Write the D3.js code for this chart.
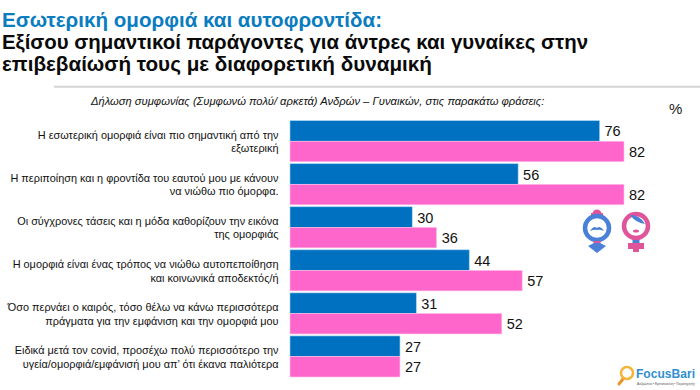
<!DOCTYPE html>
<html>
<head>
<meta charset="utf-8">
<script src="https://cdn.jsdelivr.net/npm/d3@7"></script>
<style>
  html, body { margin: 0; padding: 0; background: #fff; }
  svg { display: block; }
  text { font-family: "Liberation Sans", Arial, sans-serif; }
</style>
</head>
<body>
<div id="chart"></div>
<script>
// chart data
const statements = [
  ["Η εσωτερική ομορφιά είναι πιο σημαντική από την", "εξωτερική"],
  ["Η περιποίηση και η φροντίδα του εαυτού μου με κάνουν", "να νιώθω πιο όμορφα."],
  ["Οι σύγχρονες τάσεις και η μόδα καθορίζουν την εικόνα", "της ομορφιάς"],
  ["Η ομορφιά είναι ένας τρόπος να νιώθω αυτοπεποίθηση", "και κοινωνικά αποδεκτός/ή"],
  ["Όσο περνάει ο καιρός, τόσο θέλω να κάνω περισσότερα", "πράγματα για την εμφάνιση και την ομορφιά μου"],
  ["Ειδικά μετά τον covid, προσέχω πολύ περισσότερο την", "υγεία/ομορφιά/εμφάνισή μου απ’ ότι έκανα παλιότερα"]
];
const men = [76, 56, 30, 44, 31, 27];
const women = [82, 82, 36, 57, 52, 27];
const seriesNames = ["men", "women"];
const seriesColors = ["#0070c0", "#ff66cc"];
const seriesStrokes = ["#9ad0f0", "#ffc4ea"];

const width = 700, height = 390;
const svg = d3.select("#chart").append("svg")
  .attr("width", width)
  .attr("height", height);

// title
const title = svg.append("g").attr("font-weight", "bold").attr("font-size", 19.5);
title.append("text").attr("x", 2).attr("y", 26.5)
  .attr("fill", "#0a7cc0")
  .attr("textLength", 380).attr("lengthAdjust", "spacingAndGlyphs")
  .text("Εσωτερική ομορφιά και αυτοφροντίδα:");
title.append("text").attr("x", 2).attr("y", 48.5)
  .attr("fill", "#0a0a0a")
  .attr("textLength", 586).attr("lengthAdjust", "spacingAndGlyphs")
  .text("Εξίσου σημαντικοί παράγοντες για άντρες και γυναίκες στην");
title.append("text").attr("x", 2).attr("y", 70.5)
  .attr("fill", "#0a0a0a")
  .attr("textLength", 430).attr("lengthAdjust", "spacingAndGlyphs")
  .text("επιβεβαίωσή τους με διαφορετική δυναμική");

svg.append("line")
  .attr("x1", 54).attr("x2", 700).attr("y1", 86.7).attr("y2", 86.7)
  .attr("stroke", "#d4d4d4").attr("stroke-width", 2);

svg.append("text").attr("x", 91).attr("y", 105)
  .attr("font-size", 11.2).attr("font-style", "italic").attr("fill", "#111")
  .text("Δήλωση συμφωνίας (Συμφωνώ πολύ/ αρκετά) Ανδρών – Γυναικών, στις παρακάτω φράσεις:");
svg.append("text").attr("x", 669).attr("y", 114)
  .attr("font-size", 15).attr("fill", "#222")
  .text("%");

// scales
const x = d3.scaleLinear().domain([0, 82]).range([290, 624]);
const y = d3.scaleBand().domain(d3.range(statements.length))
  .range([120.7, 377]).paddingInner(0.0465).paddingOuter(0);
const inner = d3.scaleBand().domain(seriesNames).range([0, y.bandwidth()]);

// bars
const rows = svg.append("g").selectAll("g")
  .data(statements)
  .join("g")
  .attr("transform", (d, i) => `translate(0,${y(i)})`);

[men, women].forEach((values, s) => {
  rows.append("rect")
    .attr("x", x(0))
    .attr("y", inner(seriesNames[s]))
    .attr("width", (d, i) => x(values[i]) - x(0))
    .attr("height", inner.bandwidth())
    .attr("fill", seriesColors[s])
    .attr("stroke", seriesStrokes[s])
    .attr("stroke-width", 0.6);

  rows.append("text")
    .attr("x", (d, i) => x(values[i]) + 5)
    .attr("y", inner(seriesNames[s]) + inner.bandwidth() / 2)
    .attr("dy", "0.38em")
    .attr("font-size", 14.5)
    .attr("fill", "#111")
    .text((d, i) => values[i]);
});

// statement labels, right aligned against the bars
rows.each(function (d) {
  const label = d3.select(this).append("text")
    .attr("text-anchor", "end")
    .attr("font-size", 10.9)
    .attr("fill", "#111");
  d.forEach((line, i) => {
    label.append("tspan")
      .attr("x", 278.5)
      .attr("y", i === 0 ? 18 : 31.7)
      .text(line);
  });
});

// man / woman icons
const man = svg.append("g").attr("transform", "translate(597,228)");
man.append("circle").attr("cy", -14).attr("r", 4.5).attr("fill", "#e0559a");
man.append("rect").attr("x", -6).attr("y", -15).attr("width", 12).attr("height", 3).attr("fill", "#e0559a");
man.append("circle").attr("r", 12).attr("fill", "#fff").attr("stroke", "#4a80d8").attr("stroke-width", 4.5);
man.append("path").attr("d", "M-7,3 Q-3,-3 0,0 Q3,-3 7,3 Q2,1 0,2 Q-2,1 -7,3Z").attr("fill", "#4a80d8");
man.append("rect").attr("x", -3.5).attr("y", 13).attr("width", 7).attr("height", 4).attr("fill", "#e0559a");
man.append("path").attr("d", "M-9,18 L-3,15 L3,15 L9,18 L0,25Z").attr("fill", "#4a80d8");

const woman = svg.append("g").attr("transform", "translate(636,226)");
woman.append("rect").attr("x", -3.5).attr("y", 12).attr("width", 7).attr("height", 6).attr("fill", "#4a80d8");
woman.append("rect").attr("x", -8).attr("y", 17).attr("width", 16).attr("height", 6).attr("fill", "#e0559a");
woman.append("rect").attr("x", -3).attr("y", 17).attr("width", 6).attr("height", 9).attr("fill", "#e0559a");
woman.append("circle").attr("r", 12).attr("fill", "#fff").attr("stroke", "#e0559a").attr("stroke-width", 4.5);
woman.append("path").attr("d", "M-6,-11 Q4,-11 9,-2 Q0,-3 -6,-11Z").attr("fill", "#4a80d8");
woman.append("ellipse").attr("cy", 5).attr("rx", 3).attr("ry", 1.6).attr("fill", "#e0559a");

// FocusBari logo
const logo = svg.append("g").attr("transform", "translate(625,375)");
logo.append("line").attr("x1", -2).attr("y1", 4).attr("x2", -6).attr("y2", 9)
  .attr("stroke", "#e9952a").attr("stroke-width", 3).attr("stroke-linecap", "round");
logo.append("circle").attr("cx", 2).attr("cy", -2).attr("r", 6)
  .attr("fill", "#fff").attr("stroke", "#f5b53a").attr("stroke-width", 2.5);
logo.append("text").attr("x", 11).attr("y", 3)
  .attr("font-size", 12.5).attr("font-weight", "bold").attr("fill", "#2f8fd0")
  .attr("textLength", 59).attr("lengthAdjust", "spacingAndGlyphs")
  .text("FocusBari");
logo.append("text").attr("x", 12).attr("y", 10)
  .attr("font-size", 3.2).attr("fill", "#555")
  .attr("textLength", 58).attr("lengthAdjust", "spacingAndGlyphs")
  .text("Ανθρώπου • Εμπιστοσύνη • Παρατηρητής");
</script>
</body>
</html>
